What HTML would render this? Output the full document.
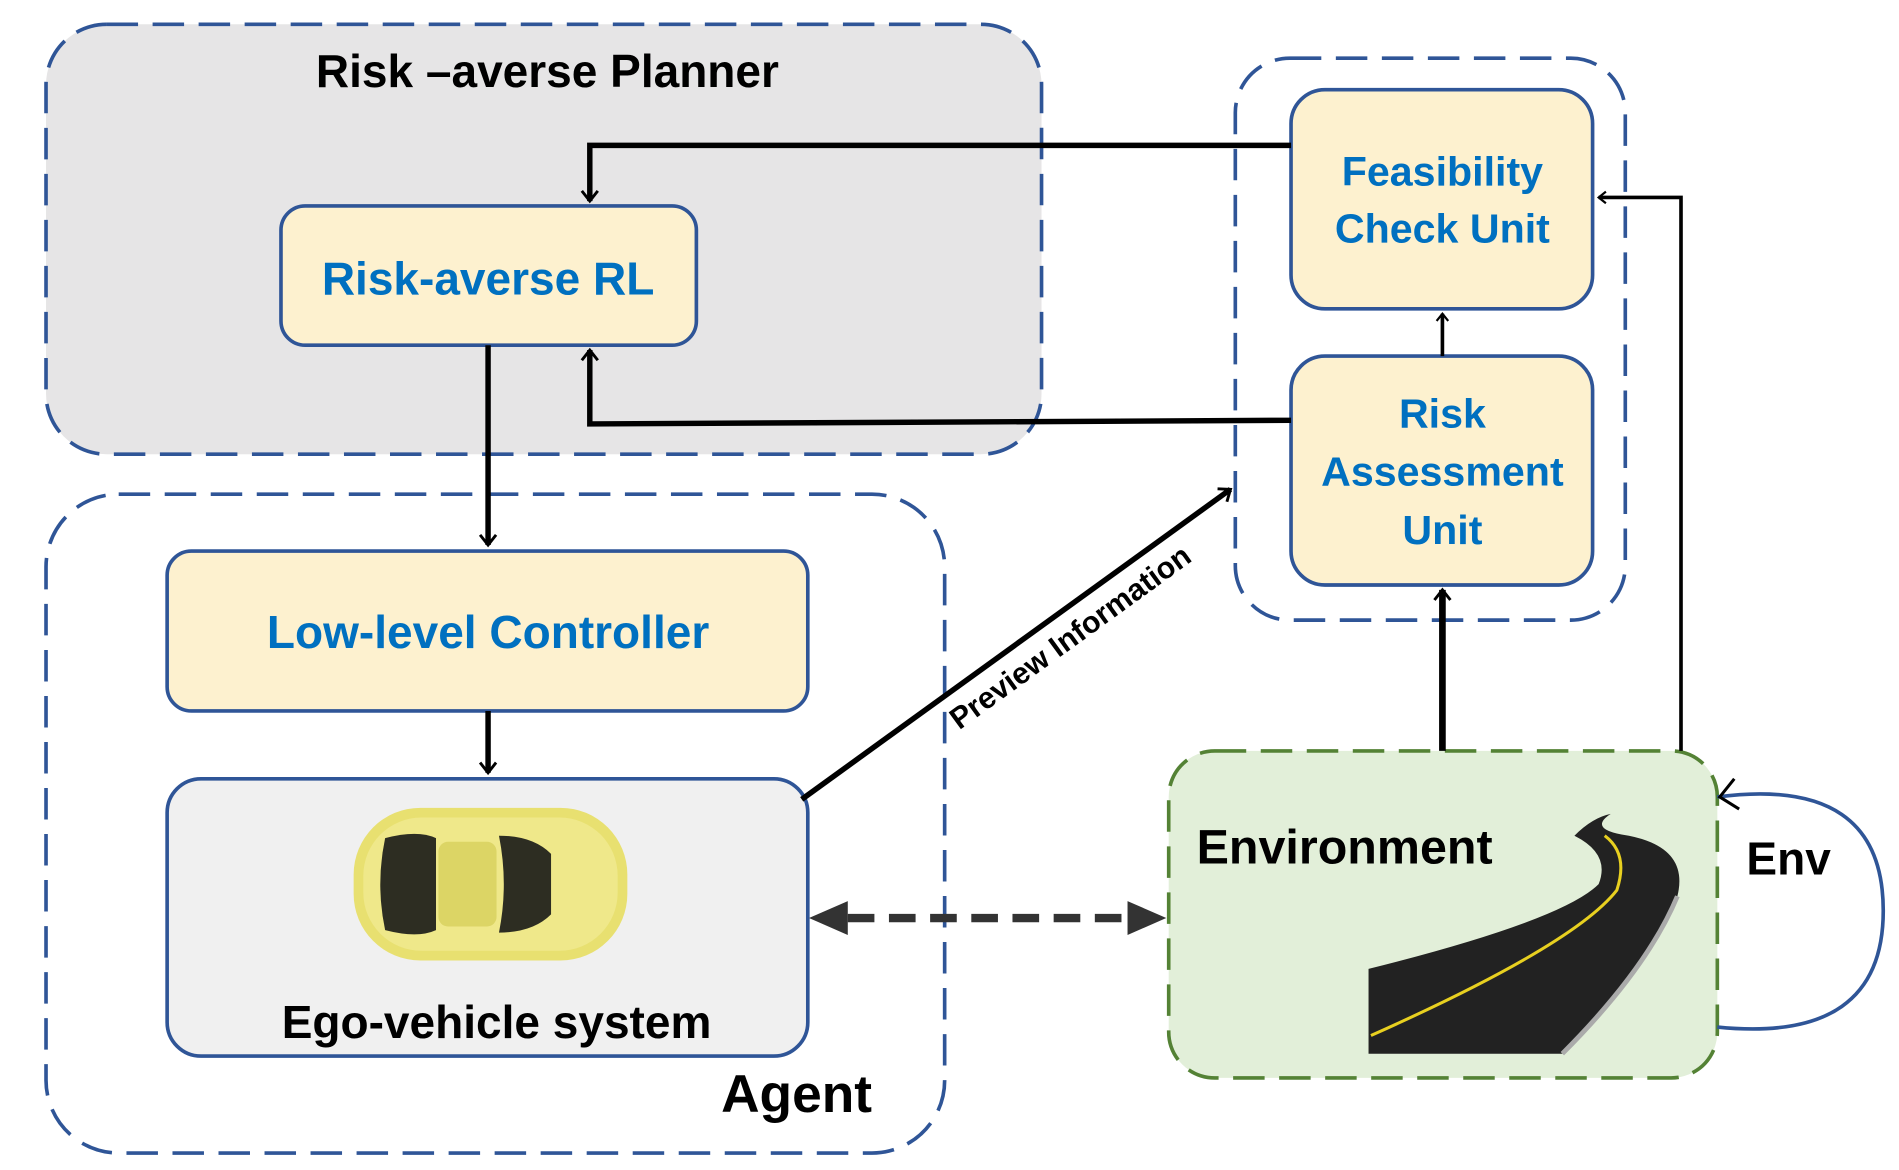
<!DOCTYPE html>
<html><head><meta charset="utf-8"><style>html,body{margin:0;padding:0;background:#fff}svg{display:block}</style></head>
<body>
<svg width="1899" height="1170" viewBox="0 0 1568 966" xmlns="http://www.w3.org/2000/svg" font-family="Liberation Sans, sans-serif" font-weight="bold">
<defs>
<marker id="ah" viewBox="0 0 10 10" refX="8" refY="5" markerWidth="6" markerHeight="6" orient="auto-start-reverse" markerUnits="userSpaceOnUse" style="overflow:visible"><path d="M-14,-11 L0,0 L-14,11" transform="translate(8,5)" fill="none" stroke="#000" stroke-width="4"/></marker>
<marker id="as" viewBox="0 0 10 10" refX="8" refY="5" markerWidth="6" markerHeight="6" orient="auto-start-reverse" markerUnits="userSpaceOnUse" style="overflow:visible"><path d="M-10,-8 L0,0 L-10,8" transform="translate(8,5)" fill="none" stroke="#000" stroke-width="3"/></marker>
</defs>
<!-- planner -->
<rect x="38" y="20" width="822" height="355" rx="50" fill="#e6e5e6" stroke="#2f5597" stroke-width="3" stroke-dasharray="26,12"/>
<text x="452" y="72" font-size="38" text-anchor="middle">Risk –averse Planner</text>
<rect x="232" y="170" width="343" height="115" rx="20" fill="#fdf1cf" stroke="#2f5597" stroke-width="3"/>
<text x="403" y="243" font-size="38" fill="#0070c0" text-anchor="middle">Risk-averse RL</text>
<!-- agent -->
<rect x="38" y="408" width="742" height="544" rx="60" fill="#fff" stroke="#2f5597" stroke-width="3" stroke-dasharray="26,12"/>
<rect x="138" y="455" width="529" height="132" rx="20" fill="#fdf1cf" stroke="#2f5597" stroke-width="3"/>
<text x="403" y="535" font-size="38" fill="#0070c0" text-anchor="middle">Low-level Controller</text>
<rect x="138" y="643" width="529" height="229" rx="28" fill="#f0f0f0" stroke="#2f5597" stroke-width="3"/>
<text x="410" y="857" font-size="38" text-anchor="middle">Ego-vehicle system</text>
<text x="720" y="918" font-size="44" text-anchor="end">Agent</text>
<!-- car -->
<g>
<rect x="292" y="667" width="226" height="126" rx="55" fill="#e8e070"/>
<rect x="300" y="675" width="210" height="110" rx="48" fill="#efe88a"/>
<path d="M318,692 Q345,685 360,692 L360,768 Q345,775 318,768 Q310,730 318,692Z" fill="#2d2d22"/>
<path d="M412,690 Q440,690 455,705 L455,755 Q440,770 412,770 Q420,730 412,690Z" fill="#2d2d22"/>
<rect x="362" y="695" width="48" height="70" rx="8" fill="#dcd565"/>
</g>
<!-- right group -->
<rect x="1020" y="48" width="322" height="464" rx="45" fill="#fff" stroke="#2f5597" stroke-width="3" stroke-dasharray="26,12"/>
<rect x="1066" y="74" width="249" height="181" rx="28" fill="#fdf1cf" stroke="#2f5597" stroke-width="3"/>
<text x="1191" y="153" font-size="34" fill="#0070c0" text-anchor="middle">Feasibility</text>
<text x="1191" y="200" font-size="34" fill="#0070c0" text-anchor="middle">Check Unit</text>
<rect x="1066" y="294" width="249" height="189" rx="28" fill="#fdf1cf" stroke="#2f5597" stroke-width="3"/>
<text x="1191" y="353" font-size="34" fill="#0070c0" text-anchor="middle">Risk</text>
<text x="1191" y="401" font-size="34" fill="#0070c0" text-anchor="middle">Assessment</text>
<text x="1191" y="449" font-size="34" fill="#0070c0" text-anchor="middle">Unit</text>
<!-- environment -->
<rect x="965" y="620" width="453" height="270" rx="38" fill="#e2efd9" stroke="#548235" stroke-width="3" stroke-dasharray="26,12"/>
<text x="988" y="713" font-size="40">Environment</text>
<path d="M1130,800 L1130,870 L1290,870 Q1360,800 1385,740 Q1395,700 1345,690 Q1310,685 1330,672 Q1315,675 1300,690 Q1330,705 1320,730 Q1290,760 1130,800Z" fill="#222"/>
<path d="M1132,855 Q1300,780 1335,735 Q1345,705 1325,690" fill="none" stroke="#e8d020" stroke-width="2.5"/>
<path d="M1290,870 Q1360,800 1385,740" fill="none" stroke="#aaa" stroke-width="4"/>
<!-- env loop -->
<path d="M1418,658 Q1555,640 1555,752 Q1555,862 1418,848" fill="none" stroke="#2f5597" stroke-width="3"/>
<path d="M1432,643 L1420,658 L1436,668" fill="none" stroke="#000" stroke-width="2.5"/>
<text x="1442" y="722" font-size="38">Env</text>
<!-- arrows -->
<g fill="none" stroke="#000" stroke-width="4.5">
<path d="M1066,120 L487,120 L487,166" marker-end="url(#ah)"/>
<path d="M1066,347 L487,350 L487,289" marker-end="url(#ah)"/>
<path d="M403,285 L403,450" marker-end="url(#ah)"/>
<path d="M403,587 L403,638" marker-end="url(#ah)"/>
<path d="M662,660 L1016,404" marker-end="url(#ah)"/>
<path d="M1191,620 L1191,487" stroke-width="5.5" marker-end="url(#ah)"/>
<path d="M1191,294 L1191,259" stroke-width="3" marker-end="url(#as)"/>
<path d="M1388,620 L1388,163 L1320,163" stroke-width="3" marker-end="url(#as)"/>
<path d="M700,758 L930,758" stroke="#333" stroke-width="7" stroke-dasharray="22,12"/>
</g>
<path d="M668,758 L700,744 L700,772Z" fill="#333"/>
<path d="M963,758 L931,744 L931,772Z" fill="#333"/>
<text font-size="25" transform="translate(792,603) rotate(-36)">Preview Information</text>
</svg>
</body></html>
